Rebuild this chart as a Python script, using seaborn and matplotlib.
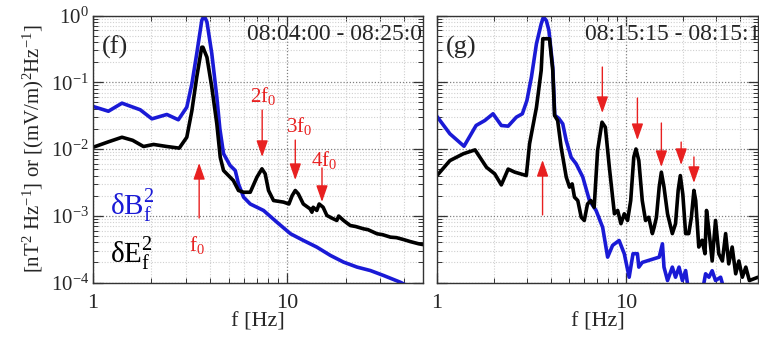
import numpy as np
import pandas as pd
import matplotlib
matplotlib.use("Agg")
import matplotlib.pyplot as plt
import seaborn as sns
from matplotlib.ticker import LogLocator, NullFormatter, LogFormatterSciNotation, FixedLocator

# ---------------- data ----------------
f_left_B = [1.0, 1.2, 1.41, 1.75, 2.01, 2.40, 2.75, 3.04, 3.23, 3.42, 3.63, 3.73, 3.86, 4.09, 4.34,
            4.5, 4.7, 5.08, 5.40, 5.61, 5.96, 6.45, 7.55, 8.85, 10.4, 12.1, 14.2, 16.7, 19.5, 22.9,
            26.8, 31.4, 38.2, 44.0, 50.0]
p_left_B = [0.0434, 0.0368, 0.0486, 0.0387, 0.0283, 0.0329, 0.0274, 0.0423, 0.095, 0.267, 0.84, 1.0,
            0.80, 0.267, 0.06, 0.02, 0.0085, 0.00566, 0.00476, 0.0030, 0.0019, 0.0015, 0.0012, 0.0008,
            0.000537, 0.000427, 0.000339, 0.000254, 0.000202, 0.00017, 0.000151, 0.000127, 0.000101,
            0.000082, 0.00007]

f_left_E = [1.0, 1.2, 1.41, 1.6, 1.82, 2.05, 2.4, 2.78, 3.04, 3.23, 3.42, 3.63, 3.68, 3.86, 4.09, 4.34,
            4.52, 4.70, 5.08, 5.28, 5.61, 5.96, 6.45, 6.98, 7.41, 7.70, 8.01, 8.5, 9.57, 10.2, 10.6, 11.0,
            11.4, 12.1, 13.1, 13.4, 13.6, 14.2, 14.6, 15.3, 16.0, 17.0, 18.0, 18.4, 19.5, 21.1, 22.5,
            24.7, 26.0, 29.0, 31.0, 34.0, 36.5, 39.7, 43.0, 47.5, 50.0]
p_left_E = [0.0106, 0.0128, 0.0150, 0.0135, 0.0109, 0.0117, 0.0109, 0.0103, 0.0150, 0.0377, 0.119,
            0.335, 0.335, 0.237, 0.084, 0.0238, 0.0075, 0.00476, 0.00378, 0.00337, 0.00239, 0.00225,
            0.00225, 0.00378, 0.00505, 0.00425, 0.00239, 0.00169, 0.0016, 0.0015, 0.0020, 0.00239,
            0.00213, 0.0015, 0.00127, 0.00113, 0.00134, 0.0012, 0.0015, 0.00134, 0.00101, 0.00092,
            0.00085, 0.00099, 0.00085, 0.000714, 0.00069, 0.000637, 0.00062, 0.000537, 0.00052,
            0.000478, 0.00047, 0.00044, 0.00041, 0.00038, 0.00037]

f_right_B = [1.0, 1.17, 1.39, 1.61, 1.79, 1.98, 2.19, 2.38, 2.63, 2.83, 2.99, 3.16, 3.36, 3.56, 3.66,
             3.79, 3.91, 4.10, 4.2, 4.4, 4.63, 4.83, 5.13, 5.45, 5.91, 6.41, 6.95, 7.53, 8.0, 8.5, 9.2,
             9.8, 10.4, 10.9, 11.5, 11.7, 12.2, 15.0, 15.6, 15.9, 16.6, 17.6, 18.3, 19.1, 19.9, 20.7,
             21.5, 25.3, 26.4, 27.5, 28.6, 29.8, 31.7, 33.0, 36.0, 50.0]
p_right_B = [0.0307, 0.0169, 0.011, 0.0225, 0.0267, 0.0337, 0.0225, 0.022, 0.030, 0.0337, 0.053, 0.119,
             0.377, 0.75, 0.95, 0.84, 0.6, 0.168, 0.032, 0.029, 0.0238, 0.0134, 0.0075, 0.006, 0.0038,
             0.00169, 0.0012, 0.00067, 0.00024, 0.00036, 0.000426, 0.00027, 0.00012, 0.00027, 0.00027,
             0.00017, 0.0002, 0.00024, 0.00038, 0.00017, 0.000107, 0.00017, 0.00012, 0.00017, 0.000107,
             0.000151, 0.00007, 0.00007, 0.000135, 0.00012, 0.00015, 0.000107, 0.00012, 0.00008,
             0.00006, 0.00005]

f_right_E = [1.0, 1.17, 1.38, 1.59, 1.83, 2.02, 2.19, 2.38, 2.58, 2.97, 3.09, 3.36, 3.56, 3.63, 3.94,
             4.10, 4.19, 4.35, 4.54, 4.83, 5.03, 5.19, 5.34, 5.56, 5.80, 6.02, 6.26, 6.52, 6.79, 7.08,
             7.47, 7.78, 8.17, 8.69, 9.04, 9.41, 9.80, 10.2, 10.6, 11.0, 11.3, 11.7, 12.2, 12.7, 13.2,
             13.8, 14.1, 14.5, 15.0, 15.4, 15.9, 16.6, 17.6, 18.3, 18.9, 19.4, 20.0, 20.7, 21.5, 22.2,
             22.9, 23.4, 24.3, 25.3, 26.2, 26.7, 27.5, 28.6, 29.8, 31.0, 32.4, 33.7, 35.0, 36.5, 38.1,
             39.6, 41.3, 43.1, 45.0, 50.0]
p_right_E = [0.0040, 0.0067, 0.0085, 0.0097, 0.0053, 0.00425, 0.0029, 0.0050, 0.0045, 0.0040, 0.012,
             0.042, 0.15, 0.448, 0.448, 0.15, 0.0318, 0.0267, 0.0106, 0.0038, 0.00268, 0.0030, 0.0019,
             0.00169, 0.00095, 0.00085, 0.0015, 0.00169, 0.00134, 0.0095, 0.0252, 0.0212, 0.0053,
             0.00107, 0.0012, 0.00076, 0.00107, 0.00085, 0.00169, 0.0075, 0.010, 0.0067, 0.00169,
             0.00085, 0.00095, 0.00054, 0.00067, 0.00095, 0.0027, 0.0045, 0.0027, 0.00107, 0.00054,
             0.00076, 0.0024, 0.0040, 0.0021, 0.00054, 0.00054, 0.00095, 0.0024, 0.00169, 0.00034,
             0.00043, 0.00027, 0.0012, 0.0006, 0.00021, 0.00085, 0.00027, 0.00021, 0.00054, 0.00019,
             0.00034, 0.000135, 0.00021, 0.00012, 0.00017, 0.000107, 0.00012]

titles = ["08:04:00 - 08:25:00", "08:15:15 - 08:15:18"]
panel_labels = ["(f)", "(g)"]

# harmonic arrows: (f, y_tail, y_tip)
arrows_left = [(3.52, 9.25e-4, 6.17e-3), (7.43, 0.0384, 7.6e-3), (11.0, 0.0136, 3.43e-3), (15.1, 5.2e-3, 1.61e-3)]
arrow_text_left = [("f$_0$", 3.44, 3.65e-4), ("2f$_0$", 7.52, 0.0622), ("3f$_0$", 11.5, 0.0221), ("4f$_0$", 15.5, 6.84e-3)]
arrows_right = [(3.62, 1.03e-3, 6.84e-3), (7.5, 0.169, 0.0346), (11.5, 0.058, 0.0136),
                (15.4, 0.0245, 5.37e-3), (19.6, 0.0127, 5.76e-3), (22.9, 7.6e-3, 3.1e-3)]

# ---------------- style ----------------
sns.set_theme(style="ticks")
plt.rcParams["font.family"] = ["Liberation Serif", "DejaVu Serif"]
plt.rcParams["mathtext.fontset"] = "custom"
plt.rcParams["mathtext.rm"] = "Liberation Serif"
plt.rcParams["mathtext.it"] = "Liberation Serif:italic"
plt.rcParams["mathtext.bf"] = "Liberation Serif:bold"

BLUE = "#1a1ad6"
RED = "#e82020"

fig = plt.figure(figsize=(7.59, 3.40), dpi=100)
axL = fig.add_axes([93/759, 1 - 282.5/340, 330/759, 267/340])
axR = fig.add_axes([437/759, 1 - 282.5/340, 321/759, 267/340])

def df_of(f, p):
    return pd.DataFrame({"f": f, "p": p})

for ax, (fb, pb, fe, pe) in zip([axL, axR], [(f_left_B, p_left_B, f_left_E, p_left_E),
                                             (f_right_B, p_right_B, f_right_E, p_right_E)]):
    sns.lineplot(data=df_of(fb, pb), x="f", y="p", ax=ax, color=BLUE, lw=2.6, estimator=None, sort=False)
    sns.lineplot(data=df_of(fe, pe), x="f", y="p", ax=ax, color="black", lw=2.6, estimator=None, sort=False)
    ax.set_xscale("log")
    ax.set_yscale("log")
    ax.set_xlim(1, 50)
    ax.set_ylim(1e-4, 1)
    ax.xaxis.set_major_locator(FixedLocator([1, 10]))
    ax.xaxis.set_major_formatter(matplotlib.ticker.FixedFormatter(["1", "10"]))
    ax.xaxis.set_minor_locator(LogLocator(base=10, subs=np.arange(2, 10), numticks=10))
    ax.xaxis.set_minor_formatter(NullFormatter())
    ax.yaxis.set_major_locator(LogLocator(base=10, numticks=10))
    ax.yaxis.set_minor_locator(LogLocator(base=10, subs=np.arange(2, 10), numticks=10))
    ax.yaxis.set_minor_formatter(NullFormatter())
    ax.grid(True, which="minor", color="#d0d0d0", linestyle=(0, (1, 1.5)), lw=0.8)
    ax.grid(True, which="major", color="#808080", linestyle=(0, (1, 1.5)), lw=0.9)
    ax.tick_params(which="both", direction="in", top=True, right=True, color="#333333")
    ax.tick_params(which="major", length=7, width=0.9)
    ax.tick_params(which="minor", length=3.5, width=0.7)
    ax.tick_params(axis="x", labelsize=16, pad=8)
    ax.tick_params(axis="y", labelsize=15, pad=3)
    for s in ax.spines.values():
        s.set_color("#333333")
        s.set_linewidth(1.0)
    ax.set_xlabel("f [Hz]", fontsize=16, labelpad=0)
    ax.set_ylabel("")

axR.tick_params(axis="y", labelleft=False)
axL.yaxis.set_major_formatter(LogFormatterSciNotation())
axL.set_ylabel(r"[nT$^2$ Hz$^{-1}$] or [(mV/m)$^2$Hz$^{-1}$]", fontsize=15, labelpad=3)

# titles (clipped by axes)
for ax, t, lab, xl in zip([axL, axR], titles, panel_labels, [(247 - 93)/330, (585 - 437)/321]):
    ax.text(xl, 0.93, t, transform=ax.transAxes, fontsize=17, ha="left", va="center", clip_on=True)
    ax.text(0.027, 0.88, lab, transform=ax.transAxes, fontsize=19, ha="left", va="center")

axL.text(0.053, 0.285, r"δB$_\mathrm{f}^2$", transform=axL.transAxes, color=BLUE, fontsize=21, ha="left", va="center")
axL.text(0.053, 0.105, r"δE$_\mathrm{f}^2$", transform=axL.transAxes, color="black", fontsize=21, ha="left", va="center")

arrowkw = dict(arrowstyle="-|>,head_length=1.0,head_width=0.35", color=RED, lw=1.0,
               mutation_scale=10, shrinkA=0, shrinkB=0)
for ax, arrs in [(axL, arrows_left), (axR, arrows_right)]:
    for fx, ytail, ytip in arrs:
        ax.annotate("", xy=(fx, ytip), xytext=(fx, ytail), arrowprops=arrowkw)
for txt, fx, fy in arrow_text_left:
    axL.text(fx, fy, txt, color=RED, fontsize=15, ha="center", va="center")

fig.savefig("out.png", dpi=100)
